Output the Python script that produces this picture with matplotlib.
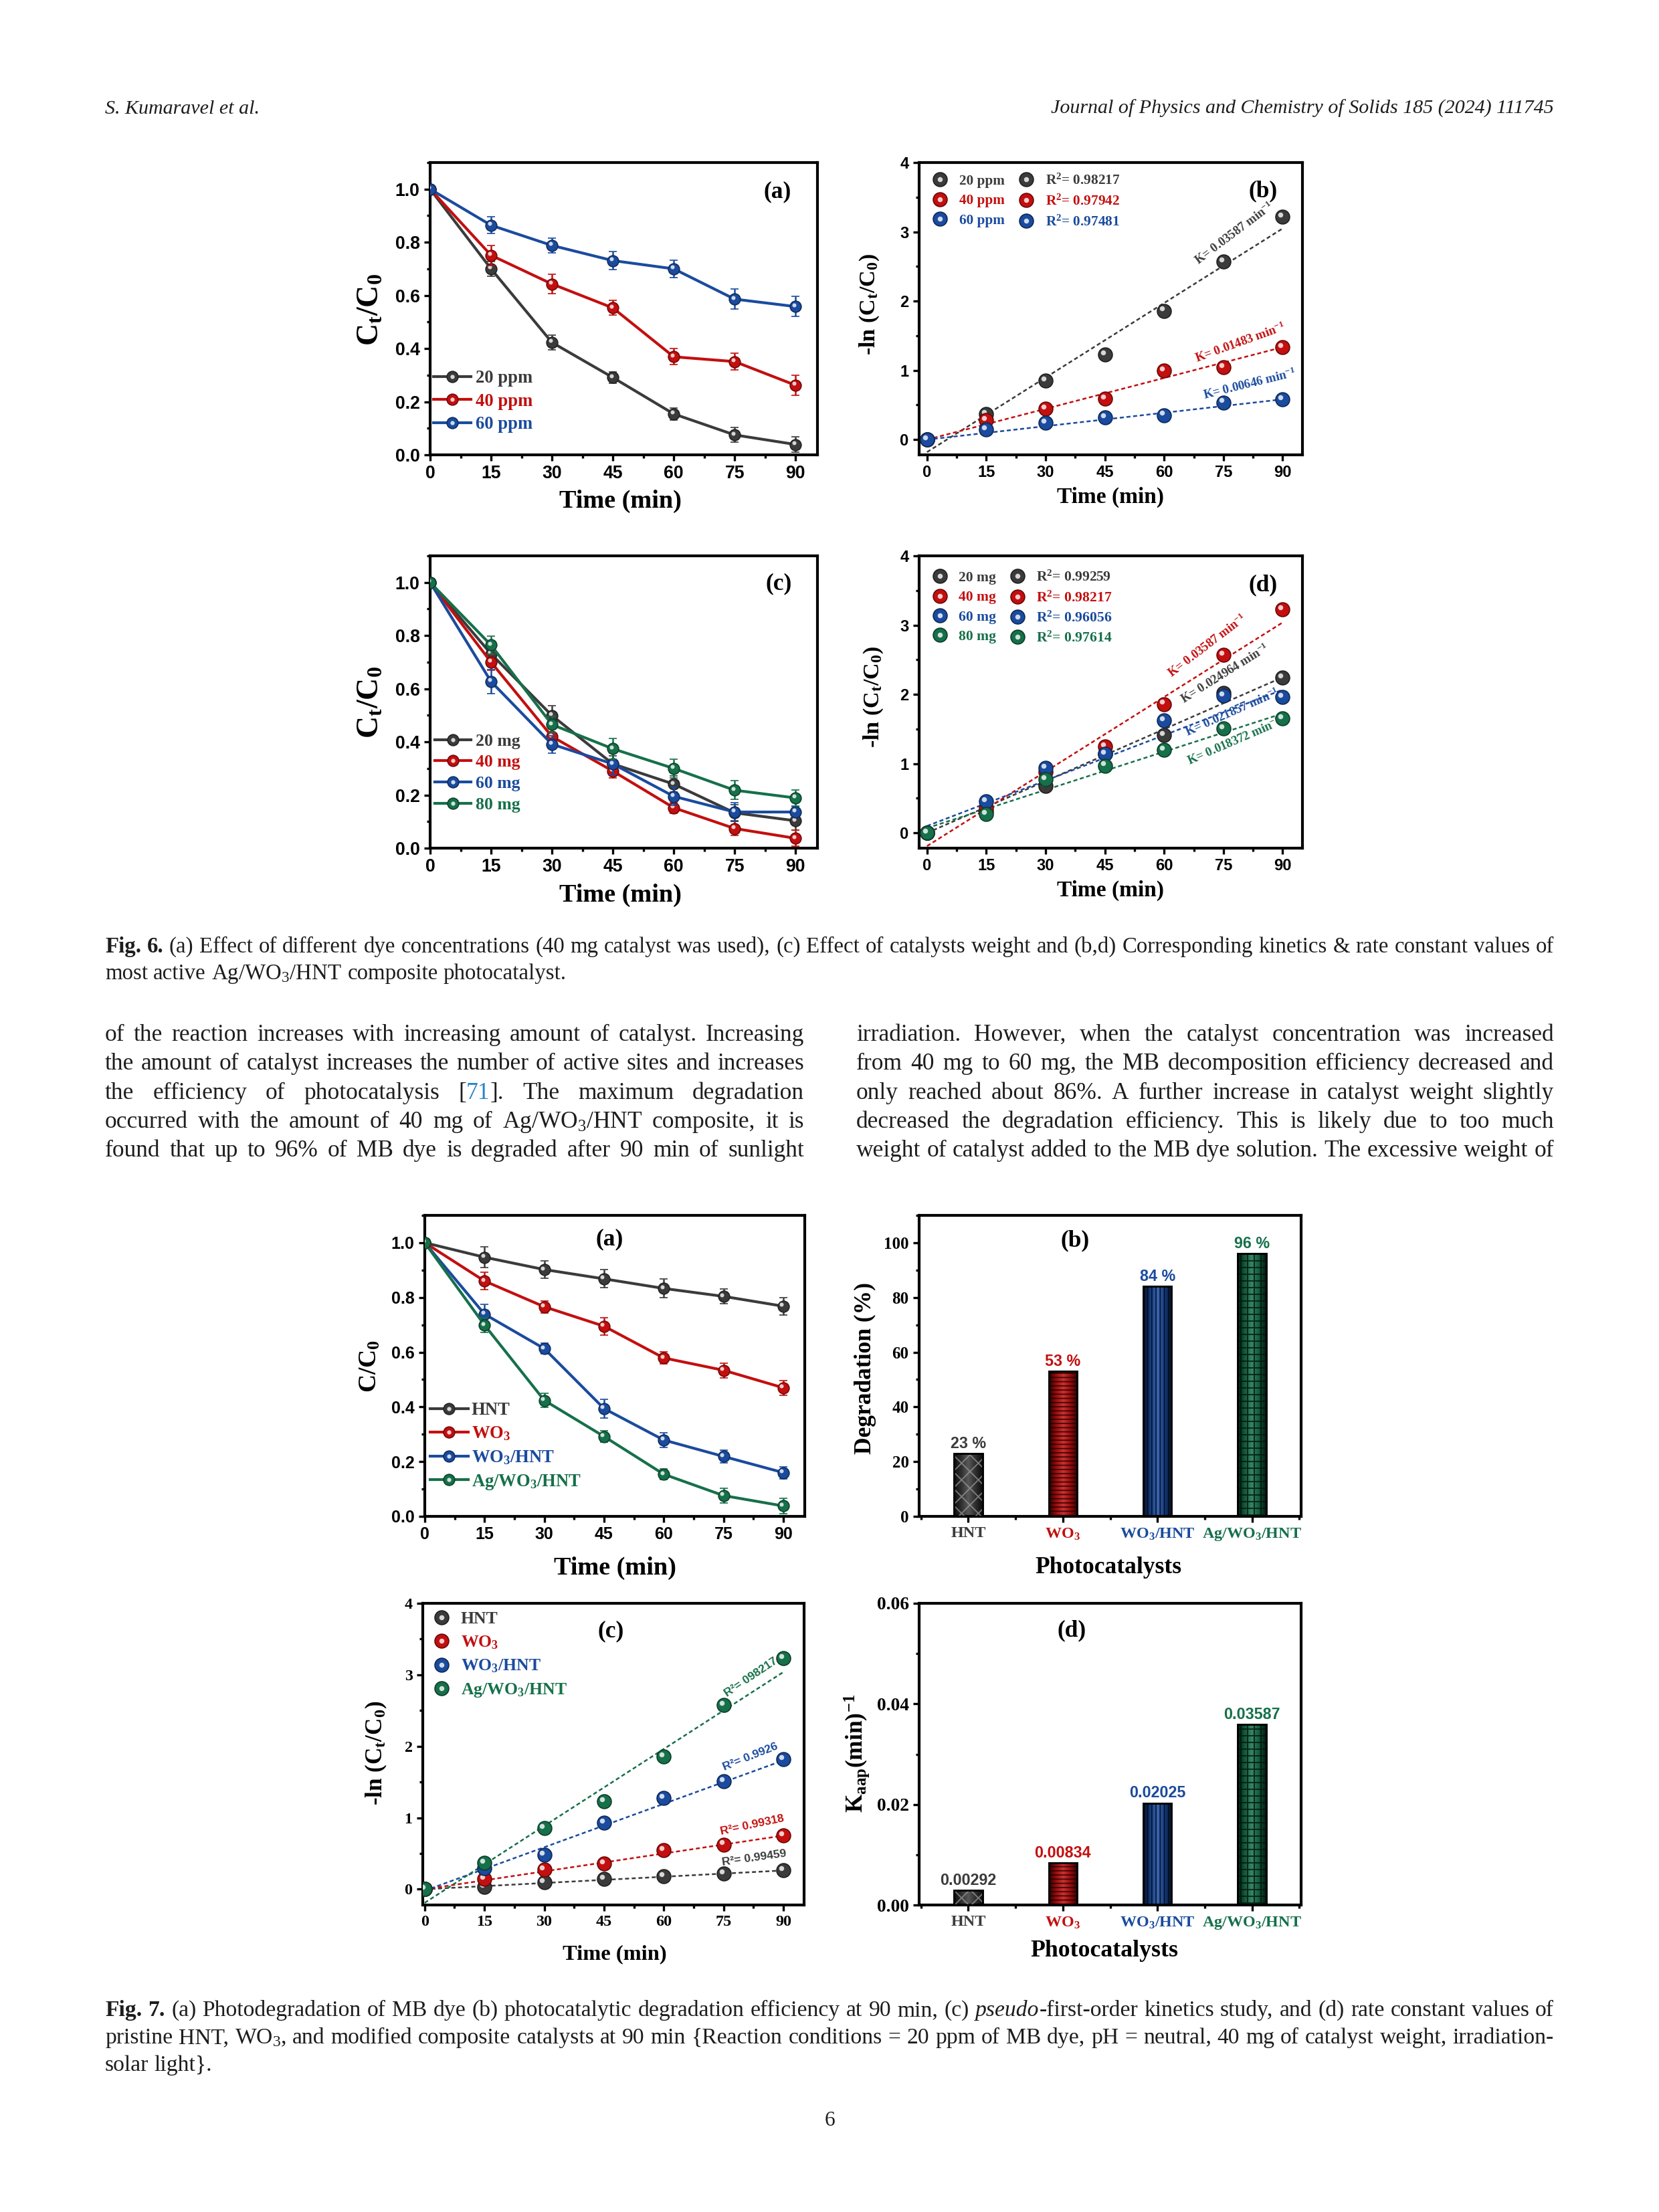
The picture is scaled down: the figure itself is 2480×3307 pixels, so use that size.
import numpy as np
import matplotlib
matplotlib.use('Agg')
import matplotlib.pyplot as plt
from matplotlib.colors import LinearSegmentedColormap, to_rgb
from matplotlib.lines import Line2D
from matplotlib.legend_handler import HandlerTuple
from matplotlib.ticker import AutoMinorLocator
from matplotlib.transforms import IdentityTransform, offset_copy

W, H, DPI = 2480, 3307, 300
SERIF = 'Liberation Serif'
SANS = 'Liberation Sans'

plt.rcParams['mathtext.fontset'] = 'custom'
plt.rcParams['mathtext.rm'] = SERIF
plt.rcParams['mathtext.it'] = SERIF + ':italic'
plt.rcParams['mathtext.bf'] = SERIF + ':bold'
plt.rcParams['hatch.linewidth'] = 0.45

GREY = '#3b3b3b'
RED = '#c30f0f'
BLUE = '#1a4b9e'
GREEN = '#16704a'
INK = '#1e1c1c'
LINK = '#2a84c4'

# ---------------- data ----------------
time = [0, 15, 30, 45, 60, 75, 90]

dye_names = ['20 ppm', '40 ppm', '60 ppm']
dye_ct = [[1.0, 0.700, 0.423, 0.291, 0.154, 0.075, 0.039],
          [1.0, 0.751, 0.643, 0.553, 0.369, 0.351, 0.262],
          [1.0, 0.864, 0.788, 0.731, 0.700, 0.586, 0.558]]
dye_err = [[0, 0.027, 0.027, 0.022, 0.022, 0.028, 0.028],
           [0, 0.038, 0.036, 0.028, 0.030, 0.032, 0.038],
           [0, 0.031, 0.028, 0.034, 0.033, 0.038, 0.038]]
dye_lnc = [[0.0, 0.368, 0.853, 1.230, 1.860, 2.570, 3.220],
           [0.0, 0.284, 0.442, 0.590, 0.993, 1.046, 1.333],
           [0.0, 0.150, 0.239, 0.316, 0.354, 0.537, 0.579]]
dye_k = [0.03587, 0.01483, 0.00646]
dye_b = [-0.18, 0.0, 0.0]
dye_r2 = ['0.98217', '0.97942', '0.97481']

mass_names = ['20 mg', '40 mg', '60 mg', '80 mg']
mass_ct = [[1.0, 0.731, 0.499, 0.317, 0.241, 0.133, 0.103],
           [1.0, 0.700, 0.420, 0.290, 0.152, 0.074, 0.037],
           [1.0, 0.627, 0.391, 0.317, 0.195, 0.136, 0.136],
           [1.0, 0.764, 0.465, 0.374, 0.300, 0.218, 0.189]]
mass_err = [[0, 0.030, 0.036, 0.030, 0.030, 0.030, 0.034],
            [0, 0.030, 0.030, 0.025, 0.020, 0.026, 0.030],
            [0, 0.045, 0.033, 0.040, 0.035, 0.036, 0.020],
            [0, 0.035, 0.030, 0.040, 0.036, 0.035, 0.030]]
mass_lnc = [[0.0, 0.313, 0.674, 1.140, 1.410, 2.020, 2.245],
            [0.0, 0.358, 0.877, 1.245, 1.860, 2.570, 3.230],
            [0.0, 0.456, 0.937, 1.140, 1.620, 1.980, 1.965],
            [0.0, 0.270, 0.772, 0.972, 1.200, 1.510, 1.650]]
mass_k = [0.024964, 0.03587, 0.021857, 0.018372]
mass_b = [0.0, -0.19, 0.10, 0.07]
mass_r2 = ['0.99259', '0.98217', '0.96056', '0.97614']

cat_names = ['HNT', r'WO$_\mathbf{3}$', r'WO$_\mathbf{3}$/HNT', r'Ag/WO$_\mathbf{3}$/HNT']
cat_ct = [[1.0, 0.947, 0.902, 0.868, 0.833, 0.804, 0.768],
          [1.0, 0.860, 0.766, 0.695, 0.579, 0.534, 0.470],
          [1.0, 0.739, 0.613, 0.394, 0.279, 0.219, 0.160],
          [1.0, 0.699, 0.424, 0.292, 0.154, 0.076, 0.038]]
cat_err = [[0, 0.038, 0.031, 0.033, 0.034, 0.027, 0.031],
           [0, 0.032, 0.022, 0.032, 0.022, 0.027, 0.027],
           [0, 0.035, 0.020, 0.035, 0.027, 0.024, 0.022],
           [0, 0.026, 0.025, 0.020, 0.020, 0.027, 0.027]]
degradation = [23, 53, 84, 96]
cat_lnc = [[0.0, 0.035, 0.095, 0.148, 0.183, 0.218, 0.264],
           [0.0, 0.148, 0.274, 0.362, 0.545, 0.626, 0.749],
           [0.0, 0.292, 0.482, 0.932, 1.273, 1.512, 1.822],
           [0.0, 0.369, 0.855, 1.231, 1.857, 2.575, 3.229]]
cat_k = [0.00292, 0.00834, 0.02025, 0.03587]
cat_b = [0.0, 0.0, -0.02, -0.19]
cat_r2 = ['0.99459', '0.99318', '0.9926', '098217']

# page text
header_left = 'S. Kumaravel et al.'
header_right = 'Journal of Physics and Chemistry of Solids 185 (2024) 111745'
caption6 = ['^bFig. ^b6.  (a) Effect of different dye concentrations (40 mg catalyst was used), (c) Effect of catalysts weight and (b,d) Corresponding kinetics & rate constant values of',
            'most active Ag/WO$_3$/HNT composite photocatalyst.']
body_left = ['of the reaction increases with increasing amount of catalyst. Increasing',
             'the amount of catalyst increases the number of active sites and increases',
             'the efficiency of photocatalysis [|~71|]. The maximum degradation',
             'occurred with the amount of 40 mg of Ag/WO$_3$/HNT composite, it is',
             'found that up to 96% of MB dye is degraded after 90 min of sunlight']
body_right = ['irradiation. However, when the catalyst concentration was increased',
              'from 40 mg to 60 mg, the MB decomposition efficiency decreased and',
              'only reached about 86%. A further increase in catalyst weight slightly',
              'decreased the degradation efficiency. This is likely due to too much',
              'weight of catalyst added to the MB dye solution. The excessive weight of']
caption7 = ['^bFig. ^b7.  (a) Photodegradation of MB dye (b) photocatalytic degradation efficiency at 90 min, (c) ^ipseudo|-first-order kinetics study, and (d) rate constant values of',
            'pristine HNT, WO$_3$, and modified composite catalysts at 90 min {Reaction conditions = 20 ppm of MB dye, pH = neutral, 40 mg of catalyst weight, irradiation-',
            'solar light}.']
page_no = '6'


def shade(c, f):
    r, g, b = to_rgb(c)
    return (r * f, g * f, b * f)


def tint(c, f):
    r, g, b = to_rgb(c)
    return (r + (1 - r) * f, g + (1 - g) * f, b + (1 - b) * f)


fig = plt.figure(figsize=(W / DPI, H / DPI), dpi=DPI)
fig.patch.set_facecolor('white')


def panel(l, r, t, b):
    return fig.add_axes([l / W, 1 - b / H, (r - l) / W, (b - t) / H])


def style(ax):
    for s in ax.spines.values():
        s.set_linewidth(1.0)
    ax.xaxis.set_minor_locator(AutoMinorLocator(2))
    ax.yaxis.set_minor_locator(AutoMinorLocator(2))
    ax.tick_params(which='both', direction='out', top=False, right=False, width=0.8, pad=1.5)
    ax.tick_params(which='major', length=2.2)
    ax.tick_params(which='minor', length=1.2)


def labels(ax, xl, yl, xc, yc, xs, ys, tag, tc):
    ax.set_xlabel(xl, fontfamily=SERIF, fontweight='bold', fontsize=xs)
    ax.set_ylabel(yl, fontfamily=SERIF, fontweight='bold', fontsize=ys)
    ax.xaxis.set_label_coords(*xc)
    ax.yaxis.set_label_coords(*yc)
    ax.xaxis.label.set_va('center')
    ax.yaxis.label.set_va('center')
    ax.text(tc[0], tc[1], tag, transform=ax.transAxes, ha='center', va='center',
            fontfamily=SERIF, fontweight='bold', fontsize=8.5)


def highlight(ax, x, y, ms, z):
    tr = offset_copy(ax.transData, fig=fig, x=-0.15 * ms, y=0.15 * ms, units='points')
    ax.plot(x, y, 'o', ms=0.36 * ms, mfc='white', mec='none', alpha=0.8, ls='none',
            transform=tr, zorder=z)


def spheres(ax, x, y, c, ms=5.0, z=4):
    ax.plot(x, y, 'o', ms=ms, mfc=c, mec=shade(c, 0.55), mew=0.4, ls='none', zorder=z)
    highlight(ax, x, y, ms, z + 0.1)


def err_series(ax, x, y, e, c, z):
    ax.errorbar(x, y, yerr=e, color=c, lw=1.0, marker='o', ms=4.0, mfc=c, mec=shade(c, 0.6),
                mew=0.4, capsize=1.5, capthick=0.6, elinewidth=0.6, zorder=z)
    highlight(ax, x, y, 4.0, z + 0.1)


def line_handle(c):
    return (Line2D([], [], color=c, lw=1.0, marker='o', ms=4.0, mfc=c, mec=shade(c, 0.6), mew=0.4),
            Line2D([], [], ls='none', marker='o', ms=1.5, mfc='white', mec='none', alpha=0.8))


def ball_handle(c, ms):
    return (Line2D([], [], ls='none', marker='o', ms=ms, mfc=c, mec=shade(c, 0.55), mew=0.4),
            Line2D([], [], ls='none', marker='o', ms=ms * 0.36, mfc='white', mec='none', alpha=0.8))


def legend(ax, handles, names, colors, size, **kw):
    leg = ax.legend(handles, names, handler_map={tuple: HandlerTuple(ndivide=1, pad=0)},
                    frameon=False, borderpad=0, borderaxespad=0,
                    prop={'family': SERIF, 'weight': 'bold', 'size': size}, **kw)
    for t, c in zip(leg.get_texts(), colors):
        t.set_color(c)
    return leg


def fit_lines(ax, ks, bs, colors):
    tx = np.array([time[0], time[-1]], dtype=float)
    for k, b, c in zip(ks, bs, colors):
        ax.plot(tx, b + k * tx, ls=(0, (2.4, 1.6)), lw=0.6, color=c, zorder=3)


def time_axis(ax, family, size, xlim):
    ax.set_xlim(*xlim)
    ax.set_xticks(time, [str(t) for t in time], fontfamily=family, fontweight='bold', fontsize=size)


def ln_yaxis(ax, family, size):
    ax.set_ylim(-0.22, 4.0)
    ax.set_yticks([0, 1, 2, 3, 4], ['0', '1', '2', '3', '4'], fontfamily=family,
                  fontweight='bold', fontsize=size)


def ct_yaxis(ax, family, size):
    ax.set_ylim(0, 1.1)
    v = [0.0, 0.2, 0.4, 0.6, 0.8, 1.0]
    ax.set_yticks(v, ['%.1f' % t for t in v], fontfamily=family, fontweight='bold', fontsize=size)


def k_labels(ax, texts, spots, colors, size, family):
    for s, (x, y, rot), c in zip(texts, spots, colors):
        ax.text(x, y, s, rotation=rot, rotation_mode='anchor', ha='center', va='center',
                color=c, fontfamily=family, fontweight='bold', fontsize=size, zorder=6)


def min_inv(k):
    return 'K= %s min$^{\\mathbf{-1}}$' % k


# ---------------- Fig. 6a ----------------
ax = panel(643, 1222, 243, 680)
style(ax)
c3 = [GREY, RED, BLUE]
for i in range(3):
    err_series(ax, time, dye_ct[i], dye_err[i], c3[i], 3 + i)
time_axis(ax, SANS, 6.4, (0, 95.4))
ct_yaxis(ax, SANS, 6.4)
labels(ax, 'Time (min)', r'C$_{\mathbf{t}}$/C$_{\mathbf{0}}$', (0.492, -0.16), (-0.152, 0.497),
       9.2, 11, '(a)', (0.897, 0.90))
legend(ax, [line_handle(c) for c in c3], dye_names, c3, 6.4, loc='lower left',
       bbox_to_anchor=(0.009, 0.075), handlelength=2.1, handletextpad=0.25, labelspacing=0.36)

# ---------------- Fig. 6b ----------------
ax = panel(1374, 1947, 243, 680)
style(ax)
fit_lines(ax, dye_k, dye_b, c3)
for i in range(3):
    spheres(ax, time, dye_lnc[i], c3[i], 5.0, 4 + i)
time_axis(ax, SANS, 5.7, (-2, 95))
ln_yaxis(ax, SANS, 5.7)
labels(ax, 'Time (min)', r'-ln (C$_{\mathbf{t}}$/C$_{\mathbf{0}}$)', (0.499, -0.146), (-0.129, 0.515),
       8.0, 8.2, '(b)', (0.898, 0.902))
k_labels(ax, [min_inv(k) for k in ['0.03587', '0.01483', '0.00646']],
         [(77.8, 2.98, 37), (79.3, 1.40, 20), (81.7, 0.80, 14)], c3, 4.5, SERIF)
legend(ax, [ball_handle(c, 5.0) for c in c3 + c3],
       dye_names + ['R$^{\\mathbf{2}}$= ' + r for r in dye_r2], c3 + c3, 5.1, ncol=2,
       loc='upper left', bbox_to_anchor=(0.024, 0.962), handlelength=1.6, handletextpad=0.56,
       labelspacing=0.45, columnspacing=0.73)

# ---------------- Fig. 6c ----------------
ax = panel(643, 1222, 831, 1268)
style(ax)
c4 = [GREY, RED, BLUE, GREEN]
for i in range(4):
    err_series(ax, time, mass_ct[i], mass_err[i], c4[i], 3 + i)
time_axis(ax, SANS, 6.4, (0, 95.4))
ct_yaxis(ax, SANS, 6.4)
labels(ax, 'Time (min)', r'C$_{\mathbf{t}}$/C$_{\mathbf{0}}$', (0.492, -0.162), (-0.152, 0.499),
       9.2, 11, '(c)', (0.90, 0.904))
legend(ax, [line_handle(c) for c in c4], mass_names, c4, 6.2, loc='lower left',
       bbox_to_anchor=(0.012, 0.122), handlelength=2.1, handletextpad=0.27, labelspacing=0.33)

# ---------------- Fig. 6d ----------------
ax = panel(1374, 1947, 831, 1268)
style(ax)
fit_lines(ax, mass_k, mass_b, c4)
for i in range(4):
    spheres(ax, time, mass_lnc[i], c4[i], 5.0, 4 + i)
time_axis(ax, SANS, 5.7, (-2, 95))
ln_yaxis(ax, SANS, 5.7)
labels(ax, 'Time (min)', r'-ln (C$_{\mathbf{t}}$/C$_{\mathbf{0}}$)', (0.499, -0.144), (-0.119, 0.517),
       8.0, 8.2, '(d)', (0.898, 0.90))
k_labels(ax, [min_inv(k) for k in ['0.024964', '0.03587', '0.021857', '0.018372']],
         [(75.4, 2.30, 32), (70.9, 2.70, 37.5), (77.2, 1.74, 24), (77.8, 1.32, 23.5)],
         c4, 4.5, SERIF)
legend(ax, [ball_handle(c, 5.0) for c in c4 + c4],
       mass_names + ['R$^{\\mathbf{2}}$= ' + r for r in mass_r2], c4 + c4, 5.2, ncol=2,
       loc='upper left', bbox_to_anchor=(0.024, 0.95), handlelength=1.6, handletextpad=0.51,
       labelspacing=0.42, columnspacing=0.64)

# ---------------- Fig. 7a ----------------
ax = panel(635, 1203, 1817, 2267)
style(ax)
for i in range(4):
    err_series(ax, time, cat_ct[i], cat_err[i], c4[i], 3 + i)
time_axis(ax, SANS, 6.0, (0, 95.4))
ct_yaxis(ax, SANS, 6.0)
labels(ax, 'Time (min)', r'C/C$_{\mathbf{0}}$', (0.50, -0.171), (-0.144, 0.498),
       9.2, 9.0, '(a)', (0.486, 0.92))
legend(ax, [line_handle(c) for c in c4], cat_names, c4, 6.4, loc='lower left',
       bbox_to_anchor=(0.014, 0.083), handlelength=2.13, handletextpad=0.18, labelspacing=0.36)

xcat = np.arange(len(cat_names))


def gradient_bars(ax, vals, hatches, hatch_cols):
    bars = ax.bar(xcat, vals, 0.3, color='none', edgecolor='none', zorder=2)
    for xb, b, c, hp, hc in zip(xcat, bars, c4, hatches, hatch_cols):
        cmap = LinearSegmentedColormap.from_list(
            'cyl', [shade(c, 0.2), shade(c, 0.8), tint(c, 0.15), shade(c, 0.8), shade(c, 0.2)])
        x0, w, h = b.get_x(), b.get_width(), b.get_height()
        im = ax.imshow(np.linspace(0, 1, 128).reshape(1, -1), cmap=cmap, aspect='auto',
                       extent=(x0, x0 + w, 0, h), zorder=2, interpolation='bilinear')
        im.set_clip_path(b)
        ax.bar([xb], [h], 0.3, color='none', edgecolor=hc, hatch=hp, lw=0, zorder=3)
    ax.bar(xcat, vals, 0.3, color='none', edgecolor='black', lw=0.7, zorder=4)
    return bars


def cat_axis(ax):
    ax.set_xlim(-0.52, 3.52)
    ax.set_xticks(xcat, cat_names, fontfamily=SERIF, fontweight='bold', fontsize=5.8)
    for t, c in zip(ax.get_xticklabels(), c4):
        t.set_color(c)


hatches = ['xxxx', '--------', '||||||||', '+++++']
hatch_cols = [(0.62, 0.62, 0.62, 0.7), (0.1, 0.0, 0.0, 0.75), (0.0, 0.02, 0.1, 0.75),
              (0.0, 0.08, 0.04, 0.8)]

# ---------------- Fig. 7b ----------------
ax = panel(1374, 1945, 1817, 2267)
style(ax)
bars = gradient_bars(ax, degradation, hatches, hatch_cols)
cat_axis(ax)
ax.set_ylim(0, 110)
yv = [0, 20, 40, 60, 80, 100]
ax.set_yticks(yv, [str(v) for v in yv], fontfamily=SERIF, fontweight='bold', fontsize=6.0)
labels(ax, 'Photocatalysts', 'Degradation (%)', (0.496, -0.171), (-0.141, 0.493),
       8.5, 8.5, '(b)', (0.408, 0.917))
for t, c in zip(ax.bar_label(bars, labels=['%d %%' % v for v in degradation], padding=0.8,
                             fontfamily=SANS, fontweight='bold', fontsize=5.6), c4):
    t.set_color(c)

# ---------------- Fig. 7c ----------------
ax = panel(632, 1202, 2397, 2848)
style(ax)
fit_lines(ax, cat_k, cat_b, c4)
for i in range(4):
    spheres(ax, time, cat_lnc[i], c4[i], 5.0, 4 + i)
time_axis(ax, SERIF, 5.8, (-0.47, 95.2))
ln_yaxis(ax, SERIF, 5.8)
labels(ax, 'Time (min)', r'-ln (C$_{\mathbf{t}}$/C$_{\mathbf{0}}$)', (0.503, -0.164), (-0.123, 0.503),
       7.8, 8.4, '(c)', (0.494, 0.907))
k_labels(ax, ['R\u00b2= ' + r for r in cat_r2],
         [(82.7, 0.44, 8), (82.1, 0.90, 12), (81.8, 1.85, 22), (81.9, 2.97, 34)],
         c4, 4.2, SANS)
legend(ax, [ball_handle(c, 5.0) for c in c4], cat_names, c4, 6.2, loc='upper left',
       bbox_to_anchor=(0.022, 0.973), handlelength=1.2, handletextpad=0.52, labelspacing=0.42)

# ---------------- Fig. 7d ----------------
ax = panel(1374, 1945, 2397, 2848)
style(ax)
bars = gradient_bars(ax, cat_k, hatches, hatch_cols)
cat_axis(ax)
ax.set_ylim(0, 0.06)
yv = [0.0, 0.02, 0.04, 0.06]
ax.set_yticks(yv, ['%.2f' % v for v in yv], fontfamily=SERIF, fontweight='bold', fontsize=6.6)
labels(ax, 'Photocatalysts', r'K$_{\mathbf{aap}}$(min)$^{\mathbf{-1}}$', (0.485, -0.151),
       (-0.163, 0.502), 8.6, 8.5, '(d)', (0.40, 0.91))
for t, c in zip(ax.bar_label(bars, labels=['%.5f' % v for v in cat_k], padding=0.8,
                             fontfamily=SANS, fontweight='bold', fontsize=5.6), c4):
    t.set_color(c)

# ---------------- page text ----------------
renderer = fig.canvas.get_renderer()


def segments(word, size):
    out = []
    for seg in word.split('|'):
        kw = dict(fontfamily=SERIF, fontsize=size, color=INK)
        while seg.startswith('^b') or seg.startswith('^i') or seg.startswith('~'):
            if seg.startswith('^b'):
                kw['fontweight'] = 'bold'
                seg = seg[2:]
            elif seg.startswith('^i'):
                kw['fontstyle'] = 'italic'
                seg = seg[2:]
            else:
                kw['color'] = LINK
                seg = seg[1:]
        out.append((seg, kw))
    return out


def text_width(s, kw):
    t = fig.text(0, 0, s, transform=IdentityTransform(), **kw)
    w = t.get_window_extent(renderer).width
    t.remove()
    return w


def set_line(line, x0, x1, y, size, justify=True, draw=True):
    words = [segments(w, size) for w in line.split(' ') if w]
    widths = [[text_width(s, kw) for s, kw in w] for w in words]
    base = dict(fontfamily=SERIF, fontsize=size)
    space = text_width('x x', base) - text_width('xx', base)
    inked = sum(sum(ws) for ws in widths)
    if not draw:
        return inked + space * (len(words) - 1)
    gap = (x1 - x0 - inked) / (len(words) - 1) if justify else space
    x = x0
    for w, ws in zip(words, widths):
        for (s, kw), sw in zip(w, ws):
            fig.text(x, H - y, s, transform=IdentityTransform(), va='baseline', ha='left', **kw)
            x += sw
        x += gap


def fit_size(lines, width):
    return 10 * min(width / set_line(l, 0, width, 0, 10, draw=False) for l in lines) * 0.995


L0, L1, R0, R1 = 157, 1202, 1280, 2323
body_size = fit_size(body_left + body_right, L1 - L0)
for i, (a, b) in enumerate(zip(body_left, body_right)):
    set_line(a, L0, L1, 1556 + 43.3 * i, body_size)
    set_line(b, R0, R1, 1556 + 43.3 * i, body_size)

cap6_size = fit_size(caption6[:1], R1 - L0)
set_line(caption6[0], L0, R1, 1424, cap6_size)
set_line(caption6[1], L0, R1, 1464, cap6_size, justify=False)

cap7_size = fit_size(caption7[:2], R1 - L0)
set_line(caption7[0], L0, R1, 3014, cap7_size)
set_line(caption7[1], L0, R1, 3055, cap7_size)
set_line(caption7[2], L0, R1, 3096, cap7_size, justify=False)

fig.text(L0, H - 170, header_left, transform=IdentityTransform(), fontfamily=SERIF,
         fontstyle='italic', fontsize=7.2, color=INK, va='baseline')
fig.text(R1, H - 170, header_right, transform=IdentityTransform(), fontfamily=SERIF,
         fontstyle='italic', fontsize=7.2, color=INK, va='baseline', ha='right')
fig.text(1240, H - 3178, page_no, transform=IdentityTransform(), fontfamily=SERIF,
         fontsize=7.5, color=INK, va='baseline', ha='center')

fig.savefig('out.png', dpi=DPI, facecolor='white')
